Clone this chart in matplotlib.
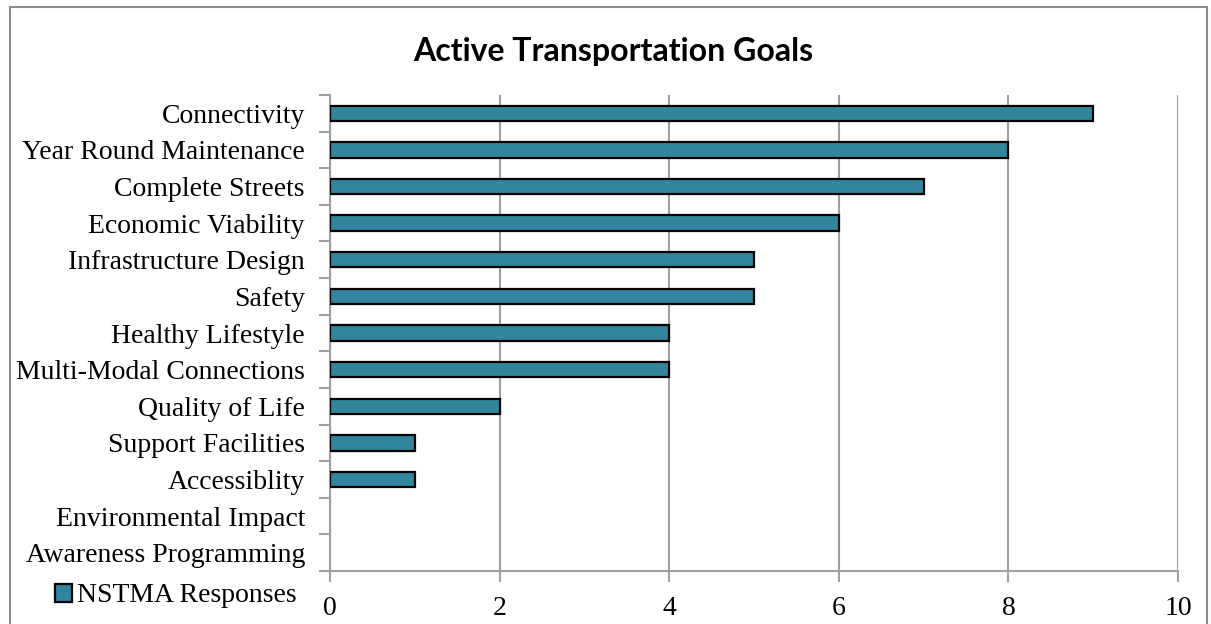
import matplotlib.pyplot as plt
import numpy as np
from matplotlib.patches import Rectangle

categories = [
    "Connectivity", "Year Round Maintenance", "Complete Streets",
    "Economic Viability", "Infrastructure Design", "Safety",
    "Healthy Lifestyle", "Multi-Modal Connections", "Quality of Life",
    "Support Facilities", "Accessiblity", "Environmental Impact",
    "Awareness Programming",
]
responses = [9, 8, 7, 6, 5, 5, 4, 4, 2, 1, 1, 0, 0]
x_ticks = [0, 2, 4, 6, 8, 10]

BAR_COLOR = "#31859c"
GRID_COLOR = "#a0a0a0"
SERIF = ["Liberation Serif", "DejaVu Serif"]

W, H = 1211, 624
fig = plt.figure(figsize=(W / 100, H / 100), dpi=100)
ax = fig.add_axes([330 / W, 1 - 571 / H, (1178 - 330) / W, (571 - 95) / H])

# outer chart border
fig.patches.append(Rectangle((10 / W, -0.05), (1207 - 10) / W, 1 - 7 / H + 0.05,
                             transform=fig.transFigure, fill=False,
                             edgecolor="#8c8c8c", linewidth=1.5))

y = np.arange(len(categories))
edges = ["black" if v > 0 else "none" for v in responses]
ax.barh(y, responses, height=0.42, color=BAR_COLOR, edgecolor=edges,
        linewidth=1.6, zorder=3, label="NSTMA Responses")

ax.set_xlim(0, 10)
ax.set_ylim(len(categories) - 0.5, -0.5)
ax.set_xticks(x_ticks)
ax.set_xticklabels([str(v) for v in x_ticks], family=SERIF, fontsize=20)
ax.set_yticks(y)
ax.set_yticklabels(categories, family=SERIF, fontsize=20)
ax.set_yticks(np.arange(-0.5, len(categories)), minor=True)

ax.tick_params(axis="y", which="major", length=0, pad=18)
ax.tick_params(axis="y", which="minor", length=8, color=GRID_COLOR, width=1.5)
ax.tick_params(axis="x", length=8, color=GRID_COLOR, width=1.5, pad=10)

ax.grid(axis="x", color=GRID_COLOR, linewidth=1.5, zorder=0)
for side in ["top", "right"]:
    ax.spines[side].set_visible(False)
for side in ["left", "bottom"]:
    ax.spines[side].set_color(GRID_COLOR)
    ax.spines[side].set_linewidth(1.5)

fig.text(613 / W, 1 - 51 / H, "Active Transportation Goals", ha="center",
         va="center", fontsize=23, fontweight="bold", family=["Lato", "DejaVu Sans"])

fig.legend(loc="center left", bbox_to_anchor=(55 / W, 1 - 596 / H), frameon=False,
           prop={"family": SERIF, "size": 20}, handlelength=0.6, handleheight=0.6,
           handletextpad=0.2, borderaxespad=0, borderpad=0)

fig.savefig("out.png", dpi=100)
